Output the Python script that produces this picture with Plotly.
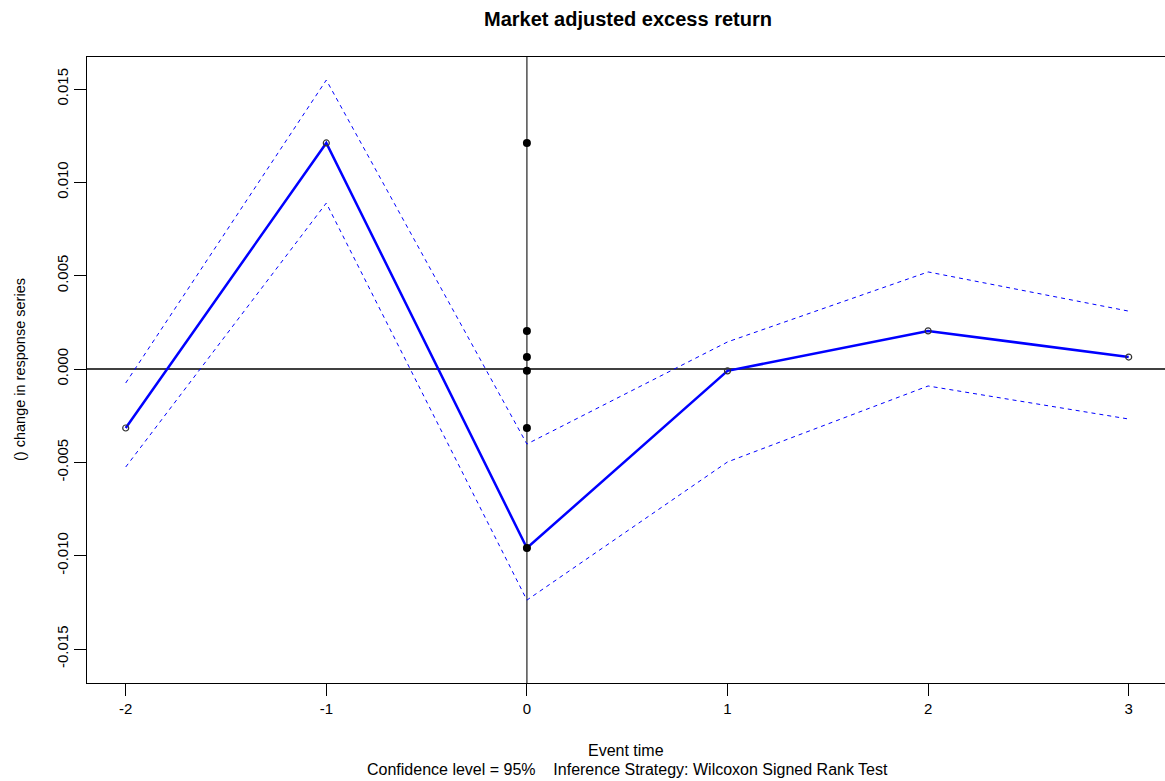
import plotly.graph_objects as go

# Event window and estimates
event_time = [-2, -1, 0, 1, 2, 3]
estimate = [-0.00316, 0.01211, -0.00959, -0.00010, 0.00204, 0.00064]
upper_ci = [-0.00075, 0.01548, -0.00402, 0.00145, 0.00520, 0.00310]
lower_ci = [-0.00525, 0.00889, -0.01238, -0.00498, -0.00091, -0.00268]

y_ticks = [-0.015, -0.010, -0.005, 0.000, 0.005, 0.010, 0.015]
y_tick_text = ["-0.015", "-0.010", "-0.005", "0.000", "0.005", "0.010", "0.015"]
x_ticks = [-2, -1, 0, 1, 2, 3]
x_tick_text = ["-2", "-1", "0", "1", "2", "3"]

FONT = "Liberation Sans, Arial, sans-serif"

fig = go.Figure()

# Reference lines at zero
fig.add_hline(y=0, line=dict(color="black", width=1.3), layer="below")
fig.add_vline(x=0, line=dict(color="#222", width=1.2), layer="below")

# Confidence band
for band in (upper_ci, lower_ci):
    fig.add_trace(go.Scatter(
        x=event_time, y=band, mode="lines",
        line=dict(color="blue", width=1, dash="4px,4px"),
        hoverinfo="skip", showlegend=False))

# Point estimate path
fig.add_trace(go.Scatter(
    x=event_time, y=estimate, mode="lines+markers",
    line=dict(color="blue", width=2.5),
    marker=dict(symbol="circle-open", size=6, color="#333",
                line=dict(width=1.2, color="#333")),
    showlegend=False))

# Estimates stacked at event time zero
fig.add_trace(go.Scatter(
    x=[0] * len(estimate), y=estimate, mode="markers",
    marker=dict(symbol="circle", size=8, color="black"),
    showlegend=False))

fig.update_layout(
    width=1165, height=781,
    margin=dict(l=87, r=0, t=57, b=98),
    paper_bgcolor="white", plot_bgcolor="white",
    font=dict(family=FONT, color="black", size=15),
    title=dict(text="<b>Market adjusted excess return</b>", x=(87 + 1169) / 2 / 1165,
               xanchor="center", y=1 - 19 / 781, yanchor="middle",
               font=dict(size=20, family=FONT, color="black")),
    xaxis=dict(range=[-2.193, 3.181], tickvals=x_ticks, ticktext=x_tick_text,
               ticks="outside", ticklen=12, tickwidth=1, tickcolor="black",
               showline=True, mirror=True, linecolor="black", linewidth=1.3,
               showgrid=False, zeroline=False,
               tickfont=dict(size=15, family=FONT)),
    yaxis=dict(range=[-0.016821, 0.016714], tickvals=y_ticks, ticktext=y_tick_text,
               ticks="outside", ticklen=12, tickwidth=1, tickcolor="black",
               tickangle=-90, showline=True, mirror=False, linecolor="black",
               linewidth=1.3, showgrid=False, zeroline=False,
               tickfont=dict(size=15, family=FONT)),
    annotations=[
        dict(text="() change in response series", xref="paper", yref="paper",
             x=-67 / 1078, y=(683 - 370) / 626, xanchor="center", yanchor="middle",
             textangle=-90, showarrow=False, font=dict(size=14.5, family=FONT)),
        dict(text="Event time", xref="paper", yref="paper",
             x=(626 - 87) / 1078, y=-(750 - 683) / 626, xanchor="center",
             yanchor="middle", showarrow=False, font=dict(size=16, family=FONT)),
        dict(text="Confidence level = 95%    Inference Strategy: Wilcoxon Signed Rank Test",
             xref="paper", yref="paper",
             x=(627 - 87) / 1078, y=-(769 - 683) / 626, xanchor="center",
             yanchor="middle", showarrow=False, font=dict(size=16, family=FONT)),
    ],
)

fig.write_html("out.html")
